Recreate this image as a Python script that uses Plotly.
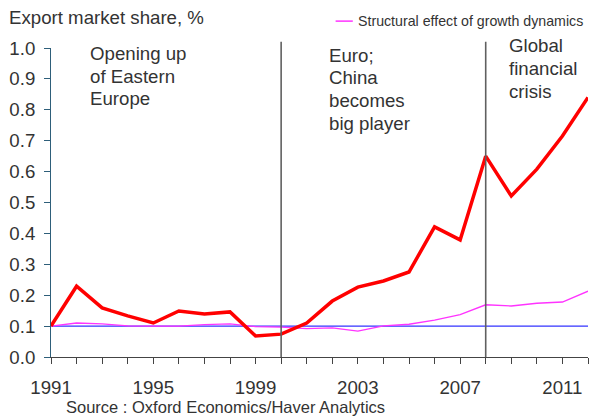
import plotly.graph_objects as go

years = list(range(1991, 2013))
export_share = [0.10, 0.229, 0.159, 0.133, 0.110, 0.149, 0.139, 0.146, 0.068, 0.074,
                0.110, 0.181, 0.226, 0.246, 0.275, 0.421, 0.379, 0.650, 0.521, 0.608,
                0.715, 0.840]
structural = [0.100, 0.110, 0.107, 0.101, 0.100, 0.100, 0.105, 0.107, 0.098, 0.097,
              0.092, 0.094, 0.084, 0.101, 0.106, 0.119, 0.137, 0.169, 0.165, 0.174,
              0.178, 0.213]
baseline = [0.10] * len(years)
period_lines = [2000, 2008]
period_years = [1992.45, 2001.8, 2008.82]
period_texts = [
    ["Opening up", "of Eastern", "Europe"],
    ["Euro;", "China", "becomes", "big player"],
    ["Global", "financial", "crisis"],
]
x_ticks = [1991, 1995, 1999, 2003, 2007, 2011]
y_ticks = [i / 10 for i in range(11)]
legend_label = "Structural effect of growth dynamics"
title_text = "Export market share, %"
source_text = "Source : Oxford Economics/Haver Analytics"

FONT = "Liberation Sans, Arial, sans-serif"
TXT = "#333333"
MAGENTA = "#ff33ff"
BIG = 18.67
# layout of the per-period labels (paper y of first line centre, spacing)
first_line_y = [0.982, 0.977, 1.007]
line_step = 0.0735

fig = go.Figure()
fig.add_trace(go.Scatter(x=years, y=baseline, mode="lines",
                         line=dict(color="#3333ff", width=1.3), showlegend=False))
fig.add_trace(go.Scatter(x=years, y=structural, mode="lines",
                         line=dict(color=MAGENTA, width=1.3), showlegend=False))
fig.add_trace(go.Scatter(x=years, y=export_share, mode="lines",
                         line=dict(color="#ff0000", width=3.5), showlegend=False))

for px in period_lines:
    fig.add_shape(type="line", x0=px, x1=px, xref="x", yref="paper", y0=0, y1=1.02,
                  line=dict(color="#606060", width=1.6))

for xv, lines, y0 in zip(period_years, period_texts, first_line_y):
    for i, t in enumerate(lines):
        fig.add_annotation(x=xv, y=y0 - i * line_step, xref="x", yref="paper",
                           text=t, showarrow=False, xanchor="left", yanchor="middle",
                           align="left", font=dict(family=FONT, size=BIG, color=TXT))

# legend (manual, so the margins stay fixed)
fig.add_shape(type="line", xref="paper", yref="paper", x0=0.530, x1=0.562,
              y0=1.087, y1=1.087, line=dict(color=MAGENTA, width=1.5))
fig.add_annotation(x=0.568, y=1.087, xref="paper", yref="paper", text=legend_label,
                   showarrow=False, xanchor="left", yanchor="middle",
                   font=dict(family=FONT, size=14.2, color=TXT))

fig.add_annotation(x=-0.082, y=1.100, xref="paper", yref="paper",
                   text=title_text, showarrow=False,
                   xanchor="left", yanchor="middle",
                   font=dict(family=FONT, size=BIG, color=TXT))
fig.add_annotation(x=0.024, y=-0.162, xref="paper", yref="paper",
                   text=source_text, showarrow=False,
                   xanchor="left", yanchor="middle",
                   font=dict(family=FONT, size=16.5, color=TXT))

fig.update_layout(
    width=593, height=412,
    margin=dict(l=43, r=13, t=40, b=63),
    paper_bgcolor="white", plot_bgcolor="white",
    font=dict(family=FONT, color=TXT),
    showlegend=False,
    xaxis=dict(range=[1991, 2012], showgrid=False, zeroline=False, automargin=False,
               showline=True, linecolor="#444444", linewidth=1,
               ticks="outside", ticklen=6, tickcolor="#444444",
               tickmode="array", tickvals=years, tickangle=0,
               ticktext=[str(y) if y in x_ticks else "" for y in years],
               ticklabelstandoff=8,
               tickfont=dict(family=FONT, size=BIG, color=TXT)),
    yaxis=dict(range=[0, 1.0], showgrid=False, zeroline=False, automargin=False,
               showline=True, linecolor="#2e5f7a", linewidth=1,
               ticks="outside", ticklen=6, tickcolor="#2e5f7a",
               tickmode="array", tickvals=y_ticks,
               ticktext=[f"{v:.1f}" for v in y_ticks],
               ticklabelstandoff=5,
               tickfont=dict(family=FONT, size=BIG, color=TXT)),
)

fig.write_html("out.html")
